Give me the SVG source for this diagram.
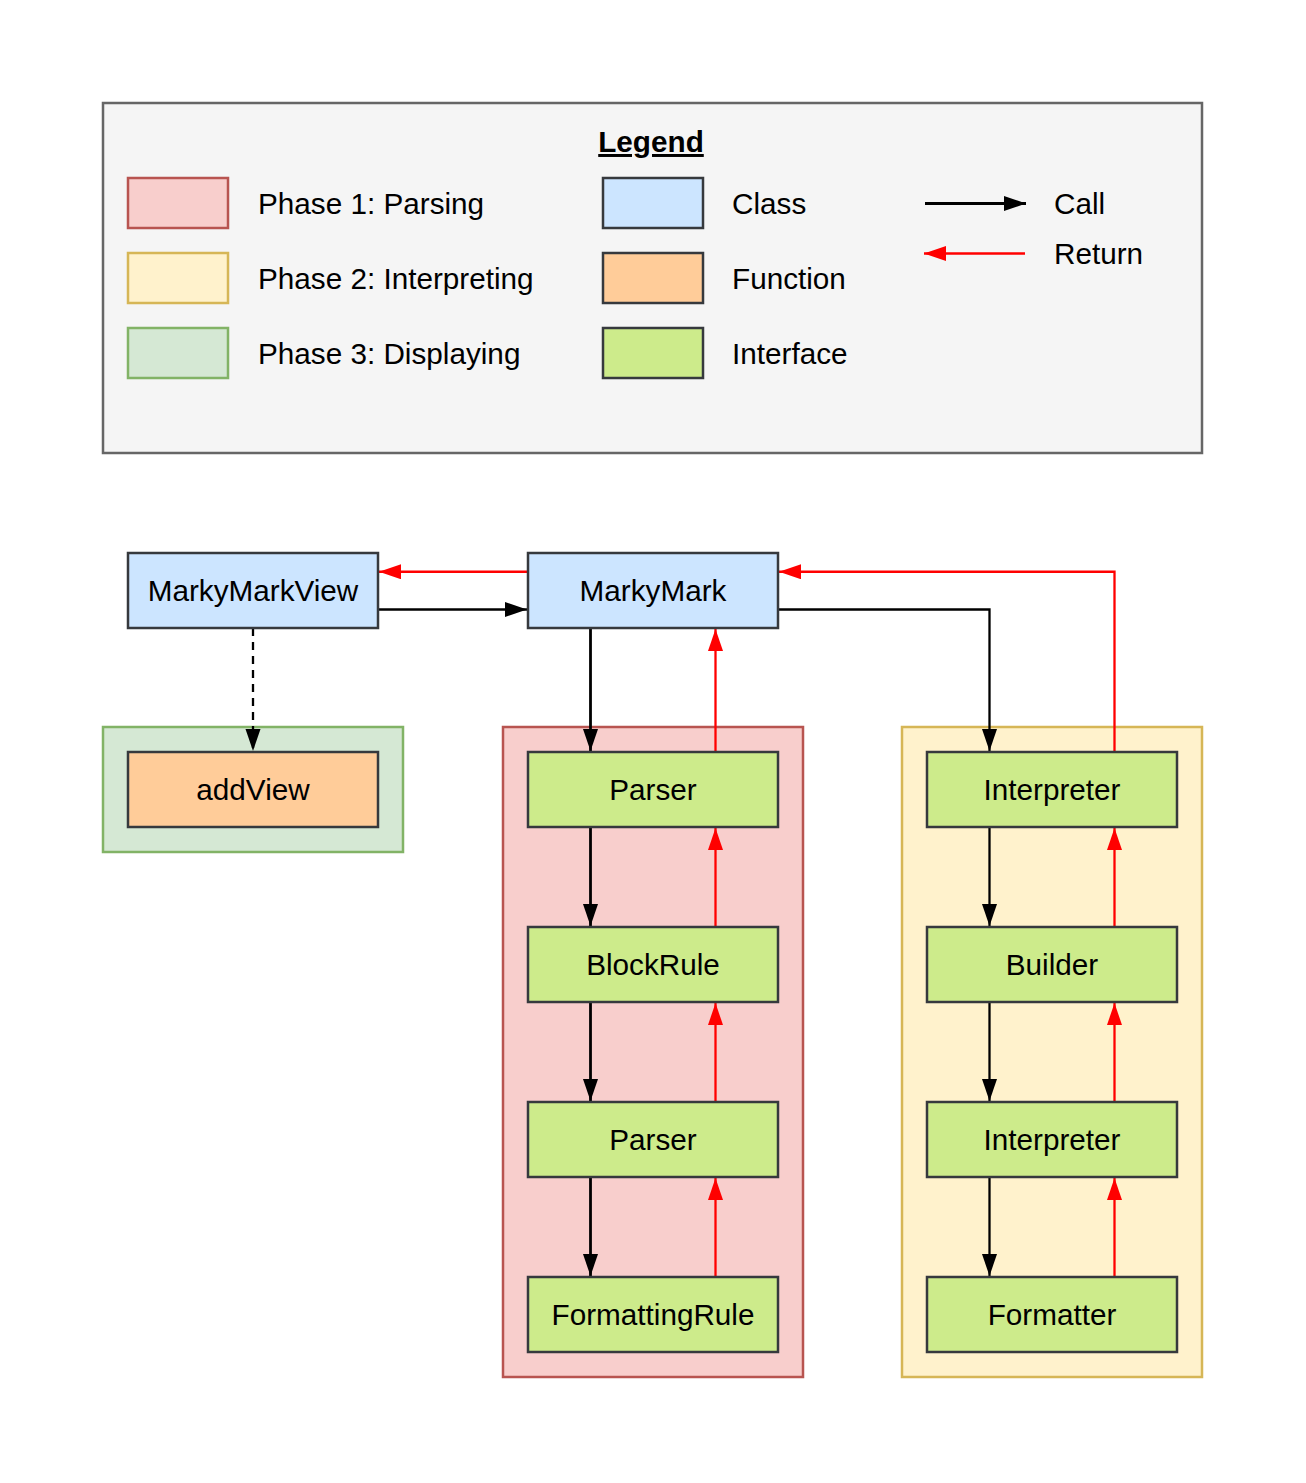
<svg xmlns="http://www.w3.org/2000/svg" width="1306" height="1483" viewBox="0 0 1306 1483">
<style>
text{font-family:"Liberation Sans",Arial,Helvetica,sans-serif;font-size:29.7px;fill:#000}
.c{text-anchor:middle}
.node{stroke:#36393d;stroke-width:2.5}
.cls{fill:#cce5ff}
.fn{fill:#ffcc99}
.itf{fill:#cdeb8b}
.p1{fill:#f8cecc;stroke:#b85450;stroke-width:2.5}
.p2{fill:#fff2cc;stroke:#d6b656;stroke-width:2.5}
.p3{fill:#d5e8d4;stroke:#82b366;stroke-width:2.5}
.call{fill:none;stroke:#000;stroke-width:2.3;marker-end:url(#ab)}
.thick{stroke-width:2.8}
.ret{fill:none;stroke:#ff0000;stroke-width:2.3;marker-end:url(#ar)}
</style>
<defs>
<marker id="ab" markerUnits="userSpaceOnUse" markerWidth="24" markerHeight="17" refX="22" refY="7.5" orient="auto"><path d="M0,0 L22,7.5 L0,15 z" fill="#000"/></marker>
<marker id="ar" markerUnits="userSpaceOnUse" markerWidth="24" markerHeight="17" refX="22" refY="7.5" orient="auto"><path d="M0,0 L22,7.5 L0,15 z" fill="#ff0000"/></marker>
</defs>
<rect width="1306" height="1483" fill="#ffffff"/>

<g id="legend">
<rect x="103" y="103" width="1099" height="350" fill="#f5f5f5" stroke="#666666" stroke-width="2.5"/>
<text x="651" y="152" class="c" font-weight="bold" text-decoration="underline">Legend</text>
<rect x="128" y="178" width="100" height="50" class="p1"/>
<rect x="128" y="253" width="100" height="50" class="p2"/>
<rect x="128" y="328" width="100" height="50" class="p3"/>
<text x="258" y="214">Phase 1: Parsing</text>
<text x="258" y="289">Phase 2: Interpreting</text>
<text x="258" y="364">Phase 3: Displaying</text>
<rect x="603" y="178" width="100" height="50" class="node cls"/>
<rect x="603" y="253" width="100" height="50" class="node fn"/>
<rect x="603" y="328" width="100" height="50" class="node itf"/>
<text x="732" y="214">Class</text>
<text x="732" y="289">Function</text>
<text x="732" y="364">Interface</text>
<path d="M925,203.5 L1026,203.5" class="call thick"/>
<path d="M1025,253.5 L924,253.5" class="ret"/>
<text x="1054" y="214">Call</text>
<text x="1054" y="264">Return</text>
</g>

<g id="phase3-container"><rect x="103" y="727" width="300" height="125" class="p3"/></g>
<g id="phase1-container"><rect x="503" y="727" width="300" height="650" class="p1"/></g>
<g id="phase2-container"><rect x="902" y="727" width="300" height="650" class="p2"/></g>

<g id="connectors">
<path d="M378,609.5 L527,609.5" class="call"/>
<path d="M528,571.75 L379,571.75" class="ret"/>
<path d="M253,628 L253,751" fill="none" stroke="#000" stroke-width="2.3" stroke-dasharray="8 6" marker-end="url(#ab)"/>
<path d="M590.5,628 L590.5,751" class="call thick"/>
<path d="M715.5,752 L715.5,629" class="ret"/>
<path d="M778,609.5 L989.5,609.5 L989.5,751" class="call"/>
<path d="M1114.5,752 L1114.5,571.75 L779,571.75" class="ret"/>
<path d="M590.5,827 L590.5,926" class="call thick"/>
<path d="M590.5,1002 L590.5,1101" class="call thick"/>
<path d="M590.5,1177 L590.5,1276" class="call thick"/>
<path d="M715.5,927 L715.5,828" class="ret"/>
<path d="M715.5,1102 L715.5,1003" class="ret"/>
<path d="M715.5,1277 L715.5,1178" class="ret"/>
<path d="M989.5,827 L989.5,926" class="call"/>
<path d="M989.5,1002 L989.5,1101" class="call"/>
<path d="M989.5,1177 L989.5,1276" class="call"/>
<path d="M1114.5,927 L1114.5,828" class="ret"/>
<path d="M1114.5,1102 L1114.5,1003" class="ret"/>
<path d="M1114.5,1277 L1114.5,1178" class="ret"/>
</g>

<g id="MarkyMarkView"><rect x="128" y="553" width="250" height="75" class="node cls"/><text x="253" y="601" class="c">MarkyMarkView</text></g>
<g id="MarkyMark"><rect x="528" y="553" width="250" height="75" class="node cls"/><text x="653" y="601" class="c">MarkyMark</text></g>
<g id="addView"><rect x="128" y="752" width="250" height="75" class="node fn"/><text x="253" y="800" class="c">addView</text></g>
<g id="Parser1"><rect x="528" y="752" width="250" height="75" class="node itf"/><text x="653" y="800" class="c">Parser</text></g>
<g id="BlockRule"><rect x="528" y="927" width="250" height="75" class="node itf"/><text x="653" y="975" class="c">BlockRule</text></g>
<g id="Parser2"><rect x="528" y="1102" width="250" height="75" class="node itf"/><text x="653" y="1150" class="c">Parser</text></g>
<g id="FormattingRule"><rect x="528" y="1277" width="250" height="75" class="node itf"/><text x="653" y="1325" class="c">FormattingRule</text></g>
<g id="Interpreter1"><rect x="927" y="752" width="250" height="75" class="node itf"/><text x="1052" y="800" class="c">Interpreter</text></g>
<g id="Builder"><rect x="927" y="927" width="250" height="75" class="node itf"/><text x="1052" y="975" class="c">Builder</text></g>
<g id="Interpreter2"><rect x="927" y="1102" width="250" height="75" class="node itf"/><text x="1052" y="1150" class="c">Interpreter</text></g>
<g id="Formatter"><rect x="927" y="1277" width="250" height="75" class="node itf"/><text x="1052" y="1325" class="c">Formatter</text></g>
</svg>
